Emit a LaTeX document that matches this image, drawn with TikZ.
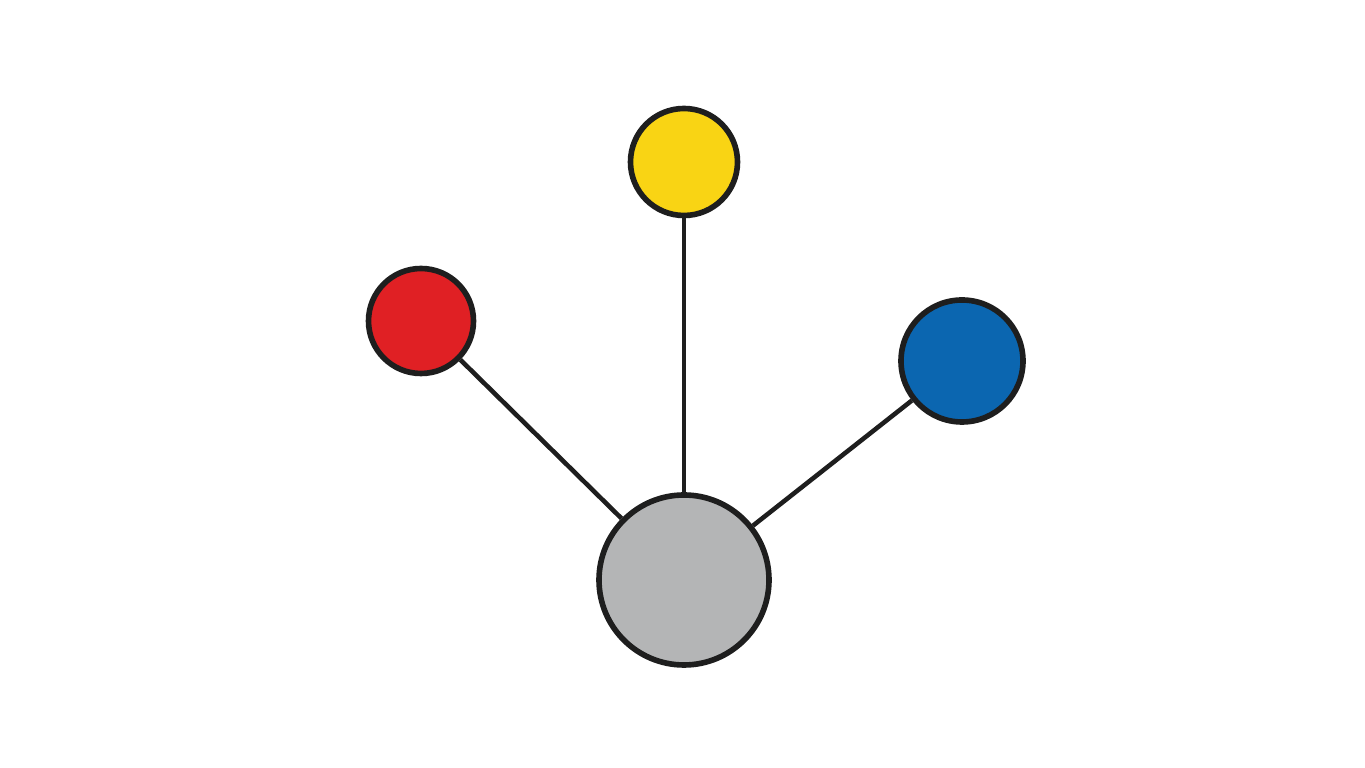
\documentclass[tikz,border=0pt]{standalone}
\usepackage{tikz}
\usepackage{xcolor}

\definecolor{dotyellow}{HTML}{F9D414}
\definecolor{dotred}{HTML}{E02024}
\definecolor{dotblue}{HTML}{0B66B0}
\definecolor{dotgray}{HTML}{B4B5B6}
\definecolor{edgeink}{HTML}{1E1E1E}

\begin{document}
\begin{tikzpicture}[
    dot/.style={circle, draw=edgeink, line width=1.6pt, inner sep=0pt},
    link/.style={draw=edgeink, line width=1.3pt}
]
\useasboundingbox[fill=white] (0,0) rectangle (13.65,7.68);

% Hub
\node[dot, fill=dotgray, minimum size=1.70cm] (hub) at (6.84,1.88) {};

% Outer nodes
\node[dot, fill=dotyellow, minimum size=1.07cm] (yellow) at (6.84,6.06) {};
\node[dot, fill=dotred, minimum size=1.05cm] (red) at (4.21,4.47) {};
\node[dot, fill=dotblue, minimum size=1.22cm] (blue) at (9.62,4.07) {};

% Connections
\foreach \n in {yellow,red,blue}
    \draw[link] (hub) -- (\n);

\end{tikzpicture}
\end{document}
